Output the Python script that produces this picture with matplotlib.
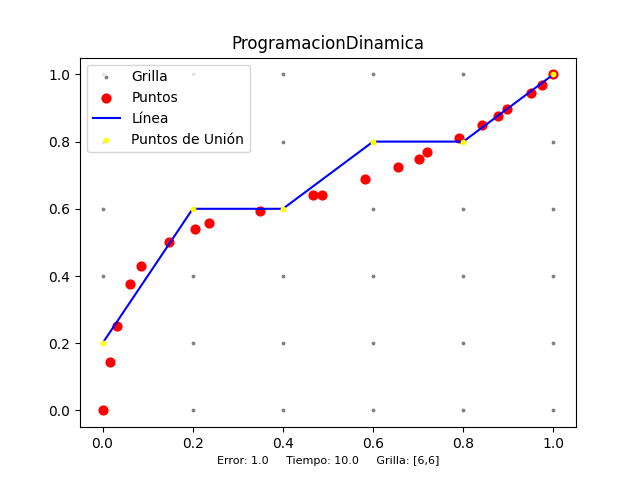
import matplotlib
matplotlib.use("Agg")
import matplotlib.pyplot as plt
import numpy as np

grid_vals = [0.0, 0.2, 0.4, 0.6, 0.8, 1.0]

puntos_x = [0.0, 0.0156, 0.0326, 0.06, 0.0844, 0.147, 0.205, 0.236, 0.350, 0.467, 0.487,
            0.581, 0.655, 0.701, 0.719, 0.790, 0.841, 0.876, 0.898, 0.950, 0.975, 1.0]
puntos_y = [0.0, 0.145, 0.250, 0.375, 0.429, 0.500, 0.541, 0.559, 0.593, 0.640, 0.640,
            0.688, 0.723, 0.747, 0.768, 0.811, 0.849, 0.876, 0.896, 0.944, 0.969, 1.0]

union_x = [0.0, 0.2, 0.4, 0.6, 0.8, 1.0]
union_y = [0.2, 0.6, 0.6, 0.8, 0.8, 1.0]

error = 1.0
tiempo = 10.0
grilla = [6, 6]

fig, ax = plt.subplots(figsize=(6.4, 4.8), dpi=100)
gx, gy = np.meshgrid(grid_vals, grid_vals)
ax.scatter(gx.ravel(), gy.ravel(), s=3, color='gray', label='Grilla')
ax.scatter(puntos_x, puntos_y, s=40, color='red', label='Puntos')
ax.plot(union_x, union_y, color='blue', label='Línea')
ax.scatter(union_x, union_y, s=10, color='yellow', label='Puntos de Unión', zorder=3)
ax.set_title('ProgramacionDinamica')
ax.set_xlabel(f'Error: {error}     Tiempo: {tiempo}     Grilla: [{grilla[0]},{grilla[1]}]', fontsize=8)
ax.legend(loc='upper left')
fig.savefig('out.png')
